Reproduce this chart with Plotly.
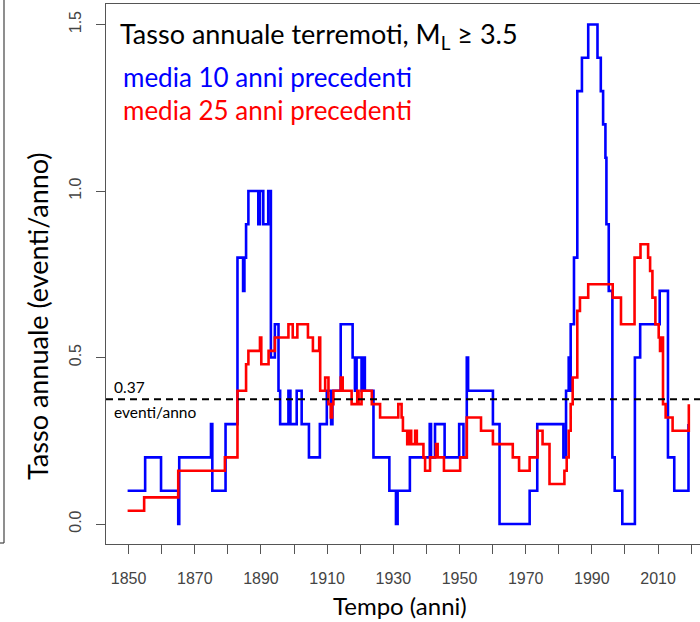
import plotly.graph_objects as go

# ---- data ----
YEARS_10 = [1849.7, 1855.0, 1859.8, 1865.0, 1865.3, 1874.9, 1875.3, 1879.3, 1882.9, 1884.6,
            1885.0, 1885.5, 1886.2, 1889.2, 1889.7, 1890.7, 1892.2, 1893.0, 1894.2, 1895.3,
            1895.8, 1898.3, 1898.9, 1900.8, 1902.3, 1904.5, 1907.8, 1909.9, 1911.2, 1911.6,
            1914.1, 1917.7, 1918.4, 1918.9, 1920.4, 1920.9, 1921.4, 1924.0, 1928.8, 1930.8,
            1931.3, 1935.0, 1941.0, 1941.4, 1942.6, 1945.5, 1949.9, 1951.2, 1952.2, 1952.6,
            1960.1, 1962.1, 1971.2, 1973.5, 1981.4, 1982.2, 1983.0, 1983.3, 1983.6, 1984.6,
            1985.6, 1987.0, 1988.9, 1991.7, 1992.7, 1993.4, 1994.1, 1994.4, 1995.1, 1996.2,
            1996.9, 1999.2, 2003.0, 2004.6, 2010.5, 2013.0, 2014.9, 2019.2]
RATE_10 = [0.1, 0.2, 0.1, 0.0, 0.2, 0.3, 0.1, 0.3, 0.8, 0.7,
           0.8, 0.9, 1.0, 0.9, 1.0, 0.9, 1.0, 0.5, 0.6, 0.4,
           0.3, 0.4, 0.3, 0.4, 0.3, 0.2, 0.3, 0.4, 0.3, 0.4,
           0.6, 0.5, 0.4, 0.5, 0.4, 0.5, 0.4, 0.2, 0.1, 0.0,
           0.1, 0.2, 0.3, 0.2, 0.3, 0.2, 0.3, 0.2, 0.5, 0.4,
           0.3, 0.0, 0.1, 0.3, 0.2, 0.4, 0.5, 0.4, 0.6, 0.8,
           1.3, 1.4, 1.5, 1.4, 1.3, 1.2, 1.1, 0.9, 0.7, 0.2,
           0.1, 0.0, 0.5, 0.6, 0.7, 0.2, 0.1, 0.3]

YEARS_25 = [1849.7, 1854.7, 1865.0, 1879.1, 1882.9, 1885.5, 1886.2, 1889.7, 1890.1, 1892.3,
            1894.2, 1898.3, 1899.6, 1901.0, 1904.2, 1905.7, 1907.6, 1907.9, 1909.4, 1910.4,
            1911.1, 1911.5, 1911.9, 1914.1, 1914.7, 1917.4, 1919.1, 1919.5, 1920.4, 1923.5,
            1926.0, 1931.5, 1932.5, 1932.9, 1934.2, 1934.6, 1934.9, 1935.1, 1935.4, 1936.6,
            1937.1, 1939.1, 1939.6, 1941.1, 1942.9, 1943.4, 1945.3, 1950.2, 1952.2, 1956.5,
            1960.1, 1966.1, 1968.0, 1971.2, 1973.6, 1975.1, 1977.2, 1981.7, 1982.4, 1983.0,
            1983.6, 1984.2, 1985.6, 1986.4, 1988.9, 1996.3, 1998.8, 2002.9, 2004.7, 2007.0,
            2007.6, 2008.3, 2009.2, 2010.2, 2010.6, 2011.0, 2011.5, 2012.3, 2014.4, 2019.3]
RATE_25 = [0.04, 0.08, 0.16, 0.20, 0.40, 0.48, 0.52, 0.56, 0.48, 0.52,
           0.56, 0.60, 0.56, 0.60, 0.56, 0.52, 0.56, 0.40, 0.44, 0.36,
           0.32, 0.36, 0.40, 0.44, 0.40, 0.36, 0.40, 0.36, 0.40, 0.36,
           0.32, 0.36, 0.32, 0.28, 0.24, 0.28, 0.24, 0.28, 0.24, 0.28,
           0.24, 0.20, 0.16, 0.20, 0.24, 0.20, 0.16, 0.20, 0.32, 0.28,
           0.24, 0.20, 0.16, 0.20, 0.28, 0.24, 0.12, 0.16, 0.20, 0.28,
           0.36, 0.44, 0.64, 0.68, 0.72, 0.68, 0.60, 0.80, 0.84, 0.80,
           0.76, 0.68, 0.60, 0.56, 0.52, 0.56, 0.36, 0.32, 0.28, 0.36]

THRESHOLD = 0.375
X_TICK_LABELS = ["1850", "1870", "1890", "1910", "1930", "1950", "1970", "1990", "2010"]
X_TICKS = [int(t) for t in X_TICK_LABELS]
Y_TICKS = [0.0, 0.5, 1.0, 1.5]
Y_TICK_LABELS = ["0.0", "0.5", "1.0", "1.5"]

TITLE = "Tasso annuale terremoti, M<sub>L</sub> ≥ 3.5"
LABEL_10 = "media 10 anni precedenti"
LABEL_25 = "media 25 anni precedenti"

# ---- layout geometry (pixels) ----
W, H = 700, 622
L, R, T, B = 106, 0, 4, 78
PW, PH = W - L - R, H - T - B


def px(xp):
    return (xp - L) / PW


def py(yp):
    return (H - B - yp) / PH


SANS = "Lato, Carlito, Calibri, sans-serif"
ARIAL = "Liberation Sans, Arial, sans-serif"

fig = go.Figure()
fig.add_trace(go.Scatter(x=YEARS_10, y=RATE_10, mode="lines",
                         line=dict(color="#0000FF", width=2.6, shape="hv"),
                         showlegend=False, hoverinfo="skip"))
fig.add_trace(go.Scatter(x=YEARS_25, y=RATE_25, mode="lines",
                         line=dict(color="#FF0000", width=2.6, shape="hv"),
                         showlegend=False, hoverinfo="skip"))

axis_common = dict(showgrid=False, zeroline=False, showline=True, linecolor="#555",
                   linewidth=1, ticks="outside", ticklen=9, tickcolor="#555", tickwidth=1,
                   tickfont=dict(family=ARIAL, size=16, color="#444"))

fig.update_layout(
    width=W, height=H,
    margin=dict(l=L, r=R, t=T, b=B, autoexpand=False),
    paper_bgcolor="white", plot_bgcolor="white", showlegend=False,
    xaxis=dict(range=[1843.17, 2022.68], tickvals=X_TICKS, ticktext=X_TICK_LABELS,
               minor=dict(ticks="outside", ticklen=9, tickcolor="#555", tickwidth=1,
                          tick0=1850, dtick=10, showgrid=False),
               mirror=True, ticklabelstandoff=11, **axis_common),
    yaxis=dict(range=[-0.060, 1.5616], tickvals=Y_TICKS, ticktext=Y_TICK_LABELS,
               tickangle=-90, ticklabelstandoff=9, **axis_common),
    shapes=[
        dict(type="line", xref="paper", yref="y", x0=0, x1=1, y0=THRESHOLD, y1=THRESHOLD,
             line=dict(color="black", width=2, dash="7px,5px")),
        dict(type="line", xref="paper", yref="paper", x0=px(4), x1=px(4), y0=py(0), y1=py(543),
             line=dict(color="#444", width=1.2)),
        dict(type="line", xref="paper", yref="paper", x0=px(0), x1=px(4), y0=py(543), y1=py(543),
             line=dict(color="#444", width=1.2)),
    ],
    annotations=[
        dict(text=TITLE, x=px(118), y=py(35), xref="paper", yref="paper", xanchor="left",
             yanchor="middle", showarrow=False, font=dict(family=SANS, size=27, color="black")),
        dict(text=LABEL_10, x=px(121), y=py(77), xref="paper", yref="paper", xanchor="left",
             yanchor="middle", showarrow=False, font=dict(family=SANS, size=26, color="#0000FF")),
        dict(text=LABEL_25, x=px(121), y=py(110), xref="paper", yref="paper", xanchor="left",
             yanchor="middle", showarrow=False, font=dict(family=SANS, size=26, color="#FF0000")),
        dict(text="0.37", x=px(112), y=py(387), xref="paper", yref="paper", xanchor="left",
             yanchor="middle", showarrow=False, font=dict(family=SANS, size=15.5, color="black")),
        dict(text="eventi/anno", x=px(112), y=py(412), xref="paper", yref="paper", xanchor="left",
             yanchor="middle", showarrow=False, font=dict(family=SANS, size=15.5, color="black")),
        dict(text="Tasso annuale (eventi/anno)", x=px(38), y=py(316), xref="paper", yref="paper",
             xanchor="center", yanchor="middle", textangle=-90, showarrow=False,
             font=dict(family=SANS, size=27, color="black")),
        dict(text="Tempo (anni)", x=px(400), y=py(606), xref="paper", yref="paper",
             xanchor="center", yanchor="middle", showarrow=False,
             font=dict(family=SANS, size=24, color="black")),
    ],
)

fig.write_html("out.html")
